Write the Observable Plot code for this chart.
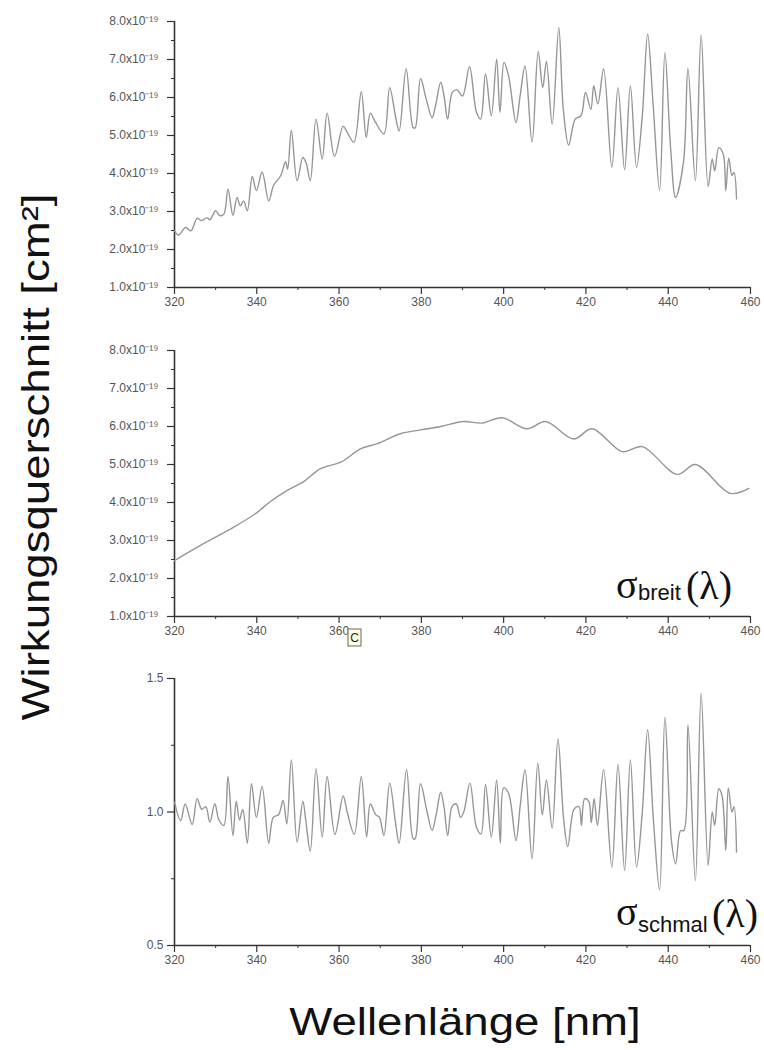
<!DOCTYPE html>
<html><head><meta charset="utf-8">
<script src="https://cdn.jsdelivr.net/npm/d3@7"></script>
<script src="https://cdn.jsdelivr.net/npm/@observablehq/plot@0.6"></script>
<style>
body{margin:0;background:#fff;}
#wrap{position:relative;width:764px;height:1050px;overflow:hidden;background:#fff;}
#wrap > svg{position:absolute;left:0;}
</style></head><body><div id="wrap"></div>
<script>
// Wavelength axis
const xMajor = [320, 340, 360, 380, 400, 420, 440, 460];
const xMinor = [330, 350, 370, 390, 410, 430, 450];

// Top panel: measured cross section (units of 1e-19 cm^2)
const nmTop = [320,321,322.7,324,325.5,326.6,327.9,328.6,330,331,332,333,334.2,335.2,336,336.8,337.7,338.9,339.9,341.3,342.9,344.1,345.8,347,347.5,348.4,349.8,351.2,352,353,354.4,355.9,357.1,358.9,361,362,363.6,365.4,366.6,367.6,368.7,370.9,372.3,373.7,374.6,376.3,378,378.5,379.8,381.2,382.6,383.4,384.7,385.5,386.4,387.5,388.7,390,391.7,393.4,394.4,395.6,397,398.3,399.1,400.1,401.2,403,404,405.2,406.9,408.4,409.5,410.4,411.8,413.4,414.5,415.8,417.4,418.8,419.9,421.2,421.9,422.9,424.3,426.3,427.8,429.4,430.8,432.3,433.7,435,436.3,437.9,439.2,440.6,441.8,443.7,444.8,446.6,448,449.7,450.7,451.3,452.3,453.4,454,454.7,455.5,456,456.6];
const sigmaTop = [2.49,2.38,2.58,2.49,2.82,2.76,2.84,2.78,3.02,2.89,2.93,3.59,2.9,3.37,3.15,3.28,3.02,3.92,3.55,4.04,3.28,3.69,3.94,4.31,4.12,5.14,3.81,4.42,4.28,3.81,5.43,4.38,5.59,4.45,5.24,5.08,4.82,6.15,4.95,5.59,5.38,5.04,6.26,5.52,5.12,6.76,5.21,5.2,6.5,5.95,5.47,5.76,6.4,6.05,5.43,6.13,6.2,6.04,6.81,5.61,5.43,6.62,5.52,7.01,5.61,6.92,6.57,5.34,6.04,6.83,4.82,7.21,6.26,6.95,5.3,7.84,5.69,4.75,5.43,5.52,6.13,5.69,6.31,5.83,6.75,4.16,6.26,4.1,6.31,4.16,5.52,7.67,5.87,3.55,7.18,4.64,3.37,4.29,6.77,3.81,7.64,3.66,4.38,4.07,4.68,4.5,3.55,4.4,3.95,4.03,3.33];

// Middle panel: broad component (units of 1e-19 cm^2)
const nmMid = [320,326.3,334.4,340.1,343,347.4,351.4,355.5,360.4,365.2,369.3,374.9,379.8,384.7,390.3,394.8,399.6,405.7,410.2,417,421.5,428.8,433.7,442.2,446.6,455.1,459.6];
const sigmaMid = [2.47,2.87,3.35,3.74,4.0,4.32,4.55,4.89,5.06,5.41,5.55,5.81,5.91,6.0,6.13,6.09,6.23,5.94,6.13,5.67,5.94,5.34,5.47,4.74,5.0,4.24,4.37];

// Bottom panel: narrow component (ratio)
const nmBot = [320,321.5,322.6,324.3,325.5,326.6,327.6,328.6,329.8,330.8,332,333,334.2,335,335.8,336.6,337.7,338.7,339.9,341.3,342.9,344,345.3,346.4,347.3,348.4,349.8,351.2,351.9,353,354.4,355.9,357.1,359,361,362,363.7,365.4,366.7,367.6,368.9,369.8,370.9,372.3,373.7,374.6,376.4,378,378.5,379.8,381.4,382.6,383.6,384.7,385.5,386.4,387.5,388.5,389.5,390.3,391.8,393.4,394.5,395.6,397,398.3,399.2,400,401.2,403,404,405.2,406.9,408.3,409.4,410.4,411.8,413.2,414.6,415.6,417.1,418.3,418.9,419.7,420.7,421.3,422,422.8,424.3,426.3,427.8,429.4,430.8,432.3,433.7,435,436.4,437.9,439.2,440.8,441.8,443,443.8,444.8,446.6,448,449.7,450.7,451.3,452.3,453.1,454,454.6,455.5,456,456.6];
const sigmaBot = [1.037,0.968,1.03,0.953,1.05,1.01,1.02,0.962,1.031,0.97,0.95,1.133,0.912,1.04,0.97,1.01,0.883,1.106,0.98,1.096,0.883,0.98,0.99,1.043,0.955,1.195,0.887,1.04,0.97,0.853,1.162,0.906,1.133,0.916,1.06,0.998,0.916,1.133,0.906,1.03,0.99,0.98,0.912,1.108,0.962,0.883,1.158,0.9,0.9,1.106,1.0,0.931,0.99,1.074,1.02,0.912,1.022,1.03,0.98,1.0,1.108,0.943,0.918,1.103,0.906,1.12,0.883,1.09,1.07,0.893,1.02,1.158,0.825,1.183,0.99,1.12,0.94,1.274,0.97,0.871,1.01,1.02,0.95,1.05,1.04,0.96,1.05,0.95,1.158,0.793,1.178,0.781,1.195,0.793,1.0,1.308,0.97,0.709,1.355,0.89,0.806,0.93,0.93,1.326,0.743,1.445,0.8,1.0,0.95,1.087,1.06,0.856,1.09,1.0,1.02,0.85];

// Tick values
const yMajorSigma = [1, 2, 3, 4, 5, 6, 7, 8];
const yMinorSigma = [1.5, 2.5, 3.5, 4.5, 5.5, 6.5, 7.5];
const yMajorRatio = [0.5, 1.0, 1.5];
const yMinorRatio = [0.75, 1.25];

const FONT = "'Liberation Sans', Arial, sans-serif";
const AX = "#333";
const LINE = "#969696";

function panel({top, height, mt, mb, nm, vals, yDomain, yMajor, yMinor, yFmt, yPad}) {
  const data = nm.map((x, i) => ({x, y: vals[i]}));
  const svg = Plot.plot({
    width: 764, height,
    marginLeft: 174, marginRight: 14, marginTop: mt, marginBottom: mb,
    x: {domain: [320, 460]},
    y: {domain: yDomain},
    style: {fontFamily: FONT, fontSize: "12px", color: "#555", background: "transparent", overflow: "visible"},
    marks: [
      Plot.axisX({ticks: xMajor, tickSize: 7, tickPadding: 3, tickFormat: d => String(d), label: null, stroke: AX, fill: "#555", strokeWidth: 1.2}),
      Plot.axisX({ticks: xMinor, tickSize: 3, tickFormat: () => "", label: null, stroke: AX}),
      Plot.axisY({ticks: yMajor, tickSize: 7, tickPadding: yPad, tickFormat: yFmt, label: null, stroke: AX, fill: "#555", strokeWidth: 1.2}),
      Plot.axisY({ticks: yMinor, tickSize: 3, tickFormat: () => "", label: null, stroke: AX}),
      Plot.ruleY([yDomain[0]], {stroke: AX, strokeWidth: 1.6}),
      Plot.ruleX([320], {stroke: AX, strokeWidth: 1.6}),
      Plot.line(data, {x: "x", y: "y", stroke: LINE, strokeWidth: 1.4, curve: "catmull-rom"})
    ]
  });
  svg.style.top = top + "px";
  document.getElementById("wrap").appendChild(svg);
}

const sciFmt = d => d.toFixed(1) + "x10\u207B\u00B9\u2079";

panel({top: 0, height: 310, mt: 21, mb: 23, nm: nmTop, vals: sigmaTop, yDomain: [1, 8], yMajor: yMajorSigma, yMinor: yMinorSigma, yFmt: sciFmt, yPad: 9});
panel({top: 320, height: 320, mt: 30, mb: 24, nm: nmMid, vals: sigmaMid, yDomain: [1, 8], yMajor: yMajorSigma, yMinor: yMinorSigma, yFmt: sciFmt, yPad: 9});
panel({top: 650, height: 320, mt: 28, mb: 25, nm: nmBot, vals: sigmaBot, yDomain: [0.5, 1.5], yMajor: yMajorRatio, yMinor: yMinorRatio, yFmt: d => d.toFixed(1), yPad: 4});

// Overlay text: axis titles and curve labels
const ns = "http://www.w3.org/2000/svg";
const ov = document.createElementNS(ns, "svg");
ov.setAttribute("width", 764); ov.setAttribute("height", 1050);
ov.style.top = "0px";
function txt(s, attrs) {
  const t = document.createElementNS(ns, "text");
  for (const k in attrs) t.setAttribute(k, attrs[k]);
  t.textContent = s;
  ov.appendChild(t);
  return t;
}
txt("Wirkungsquerschnitt [cm\u00B2]", {transform: "translate(49,457) rotate(-90) scale(1.2,1)", "text-anchor": "middle", "font-family": FONT, "font-size": 38, fill: "#111"});
txt("Wellenl\u00E4nge [nm]", {transform: "translate(465,1035) scale(1.2,1)", "text-anchor": "middle", "font-family": FONT, "font-size": 38, fill: "#111"});

const SERIF = "'Liberation Serif', 'DejaVu Serif', serif";
txt("\u03C3", {x: 616, y: 598, "font-family": SERIF, "font-size": 40, fill: "#111"});
txt("breit", {x: 638, y: 600, "font-family": FONT, "font-size": 22, fill: "#111"});
txt("(\u03BB)", {x: 686, y: 599, "font-family": SERIF, "font-size": 40, fill: "#111"});

txt("\u03C3", {x: 616, y: 925, "font-family": SERIF, "font-size": 40, fill: "#111"});
txt("schmal", {x: 638, y: 932, "font-family": FONT, "font-size": 22, fill: "#111"});
txt("(\u03BB)", {x: 712, y: 927, "font-family": SERIF, "font-size": 40, fill: "#111"});

// small tooltip box seen in the picture
const r = document.createElementNS(ns, "rect");
r.setAttribute("x", 348); r.setAttribute("y", 629); r.setAttribute("width", 13); r.setAttribute("height", 17);
r.setAttribute("fill", "#ffffe1"); r.setAttribute("stroke", "#666"); r.setAttribute("stroke-width", 1);
ov.appendChild(r);
txt("C", {x: 354.5, y: 642, "text-anchor": "middle", "font-family": FONT, "font-size": 12, fill: "#222"});

document.getElementById("wrap").appendChild(ov);
</script>
</body></html>
